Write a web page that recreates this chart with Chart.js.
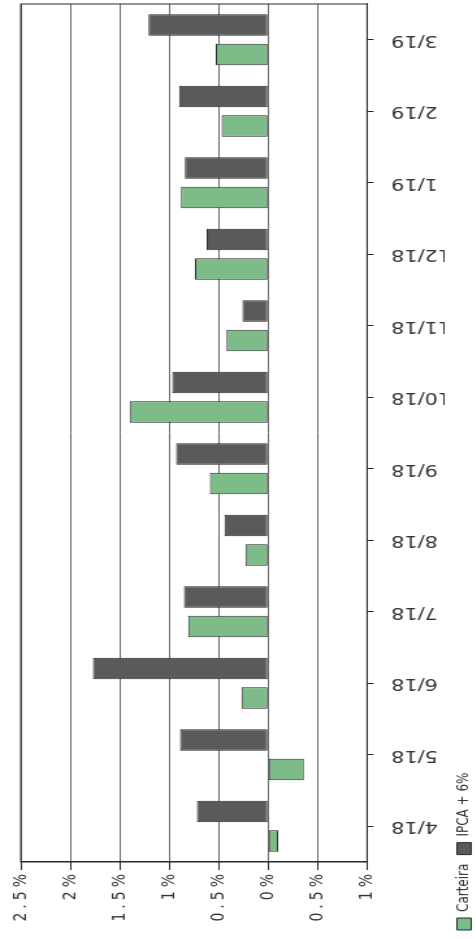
<!DOCTYPE html>
<html>
<head>
<meta charset="utf-8">
<script src="https://cdn.jsdelivr.net/npm/chart.js@4.4.1/dist/chart.umd.min.js"></script>
<style>
  html, body { margin: 0; padding: 0; background: #fff; overflow: hidden; width: 476px; height: 939px; }
  /* the scanned page is turned on its side and stretched a little across */
  #wrap {
    position: absolute; left: 0; top: 0;
    width: 939px; height: 373px;
    transform-origin: 0 0;
    transform: translateY(939px) rotate(-90deg) scaleY(1.3);
  }
</style>
</head>
<body>
<div id="wrap"><canvas id="chart" width="939" height="373"></canvas></div>
<script>
// Carteira x IPCA + 6% — retorno mensal
const months = ['4/18', '5/18', '6/18', '7/18', '8/18', '9/18', '10/18', '11/18', '12/18', '1/19', '2/19', '3/19'];
const carteira = [-0.10, -0.36, 0.27, 0.81, 0.23, 0.59, 1.40, 0.42, 0.74, 0.88, 0.47, 0.53];
const ipca6 = [0.72, 0.89, 1.77, 0.85, 0.44, 0.93, 0.97, 0.26, 0.62, 0.84, 0.90, 1.21];
const valueMin = -1;
const valueMax = 2.5;
const valueStep = 0.5;

const INK = '#2a2a2a';
const FONT = "'DejaVu Sans', Verdana, sans-serif";

// moldura do gráfico
const frame = {
  id: 'frame',
  afterDatasetsDraw(chart) {
    const { ctx, chartArea: a } = chart;
    ctx.save();
    ctx.strokeStyle = INK;
    ctx.lineWidth = 1;
    ctx.strokeRect(a.left, a.top, a.right - a.left, a.bottom - a.top);
    ctx.restore();
  },
};

// espaçamento largo das letras no eixo de valores
const spacing = {
  id: 'spacing',
  afterLayout(chart) {
    const s = chart.scales.y;
    if (!s || s._spaced) return;
    const draw = s.drawLabels.bind(s);
    s.drawLabels = (area) => {
      s.ctx.save();
      s.ctx.letterSpacing = '4px';
      draw(area);
      s.ctx.restore();
    };
    s._spaced = true;
  },
};

new Chart(document.getElementById('chart'), {
  type: 'bar',
  data: {
    labels: months,
    datasets: [
      {
        label: 'Carteira',
        data: carteira,
        backgroundColor: '#7dbb88',
        borderColor: INK,
        borderWidth: 1,
        borderSkipped: false,
      },
      {
        label: 'IPCA + 6%',
        data: ipca6,
        backgroundColor: '#5a5a5a',
        borderColor: INK,
        borderWidth: 1,
        borderSkipped: false,
      },
    ],
  },
  options: {
    responsive: false,
    animation: false,
    datasets: { bar: { categoryPercentage: 0.825, barPercentage: 0.73 } },
    layout: { padding: { top: 16, right: 4, left: 0, bottom: 0 } },
    plugins: {
      legend: {
        position: 'bottom',
        align: 'start',
        labels: {
          boxWidth: 12,
          boxHeight: 11,
          padding: 9,
          color: '#333',
          font: { family: FONT, size: 12 },
        },
      },
      tooltip: { enabled: false },
    },
    scales: {
      x: {
        grid: { display: true, drawOnChartArea: false, offset: false, tickLength: 5, tickColor: INK },
        border: { color: INK },
        ticks: {
          minRotation: 90, maxRotation: 90, autoSkip: false, padding: 13.5,
          color: '#333', font: { family: FONT, size: 16 },
        },
        afterFit: (s) => { s.height = 59.6; },
      },
      y: {
        min: valueMin,
        max: valueMax,
        grid: { color: '#6a6a6a', tickLength: 8, tickColor: INK },
        border: { color: INK },
        ticks: {
          stepSize: valueStep, padding: 0,
          color: '#333', font: { family: FONT, size: 14 },
          callback: (v) => Math.abs(v) + '%',
        },
        afterFit: (s) => { s.width = 77; },
      },
    },
  },
  plugins: [frame, spacing],
});
</script>
</body>
</html>
